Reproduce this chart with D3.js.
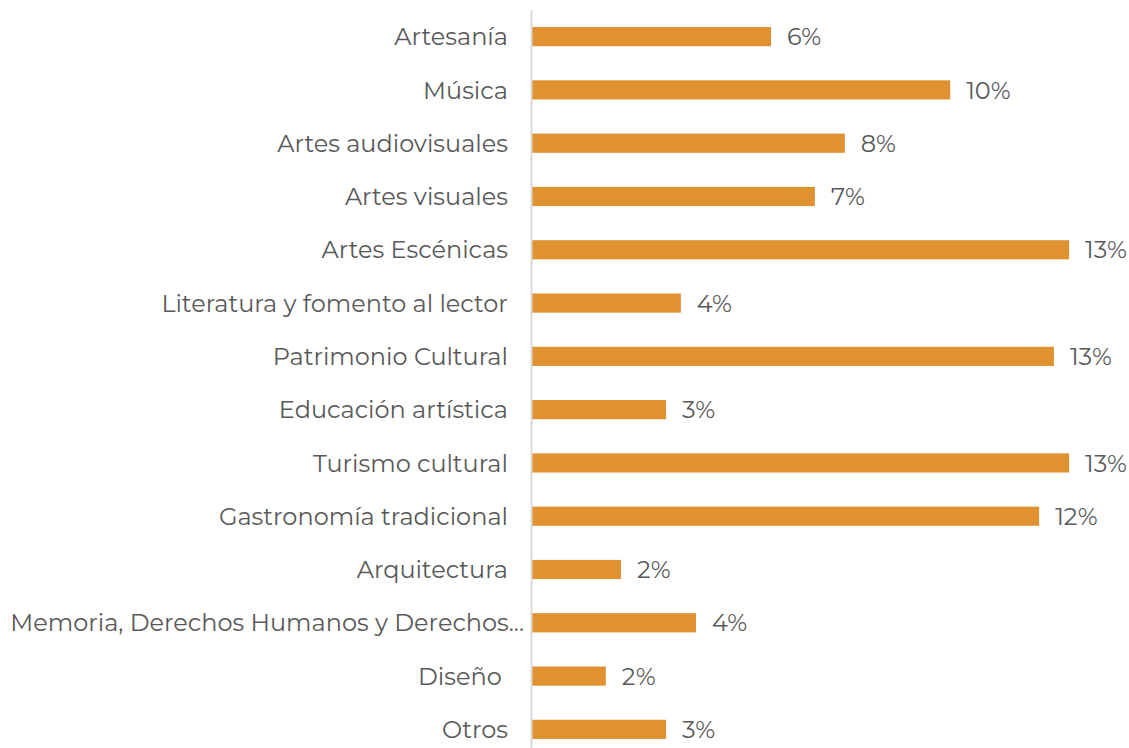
<!DOCTYPE html>
<html>
<head>
<meta charset="utf-8">
<script src="https://cdn.jsdelivr.net/npm/d3@7"></script>
<style>
  body { margin: 0; background: #fff; }
  svg text { font-family: Montserrat, "DejaVu Sans", sans-serif; fill: #595959; }
</style>
</head>
<body>
<svg id="Vis" width="1129" height="748"></svg>
<script>
/*
* DATA
*/
const categories = [
  "Artesanía",
  "Música",
  "Artes audiovisuales",
  "Artes visuales",
  "Artes Escénicas",
  "Literatura y fomento al lector",
  "Patrimonio Cultural",
  "Educación artística",
  "Turismo cultural",
  "Gastronomía tradicional",
  "Arquitectura",
  "Memoria, Derechos Humanos y Derechos...",
  "Diseño ",
  "Otros"
];

const shares = [0.0583, 0.1020, 0.0763, 0.0690, 0.1310, 0.0363, 0.1273,
                0.0327, 0.1310, 0.1237, 0.0217, 0.0400, 0.0180, 0.0327];

/*
* SETUP
*/
const svg = d3.select("svg#Vis");
const margin = { left: 532, top: 10, bottom: -8 };

const x = d3.scaleLinear()
  .domain([0, 0.145])
  .range([margin.left, margin.left + 594.5]);

const y = d3.scaleBand()
  .domain(categories)
  .range([margin.top, 748 - margin.bottom])
  .paddingInner(0.64)
  .paddingOuter(0.32);

const fmt = d3.format(".0%");
const fontSize = 24;

/* Bars */
svg.append("g")
  .selectAll("rect")
  .data(categories)
  .join("rect")
    .attr("x", x(0))
    .attr("y", d => y(d))
    .attr("width", (d, i) => x(shares[i]) - x(0))
    .attr("height", y.bandwidth())
    .attr("fill", "#E09130");

/* Axis line */
svg.append("line")
  .attr("x1", x(0) - 0.5)
  .attr("x2", x(0) - 0.5)
  .attr("y1", margin.top)
  .attr("y2", 748)
  .attr("stroke", "#d9d9d9")
  .attr("stroke-width", 2);

/* Category labels (truncated label sits closer to the axis) */
svg.append("g")
  .selectAll("text")
  .data(categories)
  .join("text")
    .attr("x", d => x(0) - (d.endsWith("...") ? 8 : 24))
    .attr("y", d => y(d) + y.bandwidth() / 2)
    .attr("dy", "0.36em")
    .attr("text-anchor", "end")
    .attr("xml:space", "preserve")
    .style("white-space", "pre")
    .style("font-size", fontSize + "px")
    .text(d => d);

/* Value labels */
svg.append("g")
  .selectAll("text")
  .data(categories)
  .join("text")
    .attr("x", (d, i) => x(shares[i]) + 16)
    .attr("y", d => y(d) + y.bandwidth() / 2)
    .attr("dy", "0.36em")
    .style("font-size", fontSize + "px")
    .text((d, i) => fmt(shares[i]));
</script>
</body>
</html>
